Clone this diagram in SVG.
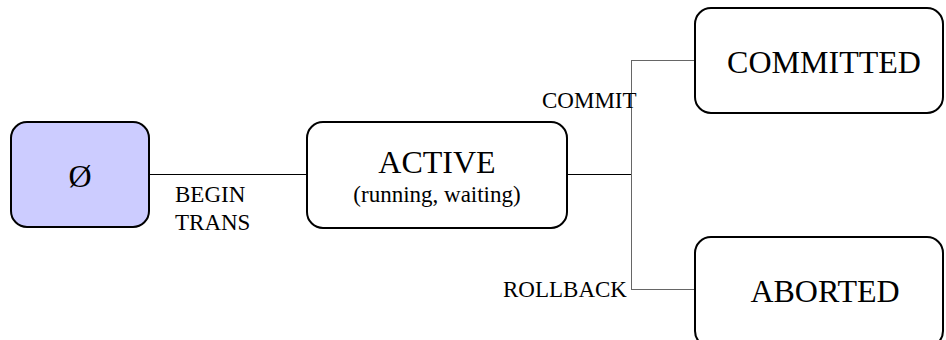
<svg xmlns="http://www.w3.org/2000/svg" width="946" height="340" viewBox="0 0 946 340">
<style>
.node{fill:#fff;stroke:#000;stroke-width:2}
.start{fill:#ccccff;stroke:#000;stroke-width:2}
.big{font-family:"Liberation Serif","Times New Roman",serif;font-size:32px;fill:#000}
.small{font-family:"Liberation Serif","Times New Roman",serif;font-size:23px;fill:#000}
.c{text-anchor:middle}
.conn line{stroke:#000;stroke-width:1}
.conn line.g{stroke:#666}
</style>
<rect width="946" height="340" fill="#fff"/>
<g id="connectors" class="conn">
<line x1="150" y1="174.5" x2="307" y2="174.5"/>
<line x1="567" y1="174.5" x2="631" y2="174.5"/>
<line class="g" x1="631.5" y1="60" x2="631.5" y2="290"/>
<line class="g" x1="631" y1="60.5" x2="695" y2="60.5"/>
<line class="g" x1="631" y1="289.5" x2="695" y2="289.5"/>
</g>
<g id="empty">
<rect class="start" x="11" y="122" width="138" height="105" rx="16"/>
<text class="big c" x="80" y="187">Ø</text>
</g>
<g id="active">
<rect class="node" x="307" y="122" width="260" height="106" rx="16"/>
<text class="big c" x="437" y="173">ACTIVE</text>
<text class="small c" x="437" y="202">(running, waiting)</text>
</g>
<g id="committed">
<rect class="node" x="695" y="8" width="248" height="105" rx="16"/>
<text class="big c" x="824" y="73">COMMITTED</text>
</g>
<g id="aborted">
<rect class="node" x="695" y="237" width="248" height="110" rx="16"/>
<text class="big c" x="825" y="302">ABORTED</text>
</g>
<g id="labels">
<text class="small" x="175" y="202">BEGIN</text>
<text class="small" x="175" y="230">TRANS</text>
<text class="small" x="542" y="108">COMMIT</text>
<text class="small" x="503" y="297">ROLLBACK</text>
</g>
</svg>
